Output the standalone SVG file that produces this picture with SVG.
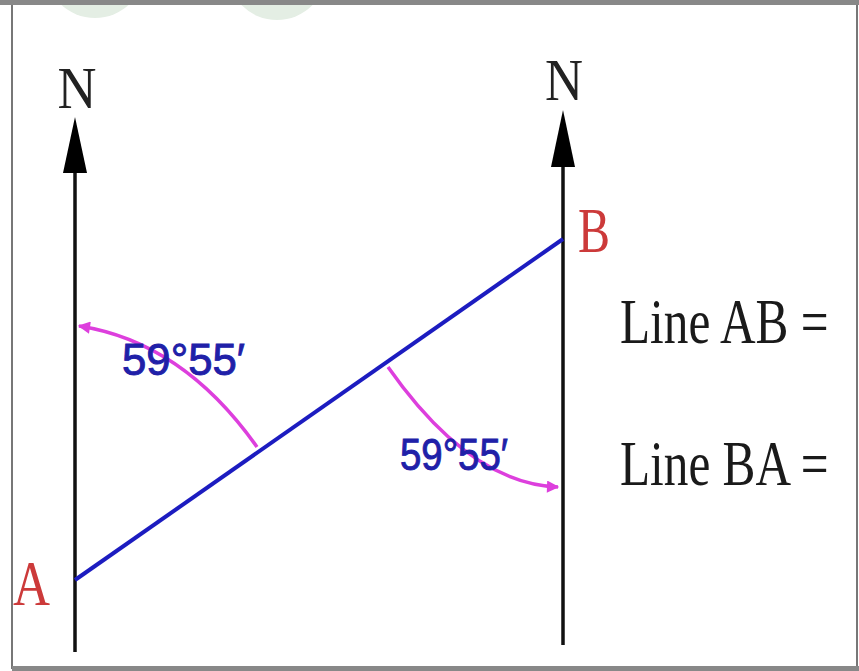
<svg xmlns="http://www.w3.org/2000/svg" width="859" height="671" viewBox="0 0 859 671">
<style>
.axis{stroke:#111;stroke-width:3.5;fill:none}
.head{fill:#000}
.ser{font-family:"Liberation Serif","Times New Roman",serif}
.north{font-size:60px;fill:#222}
.pt{font-size:64px;fill:#cc3a3a}
.eq{font-size:64px;fill:#1a1a1a}
.ang{font-family:"Liberation Sans",Arial,sans-serif;font-size:44px;fill:#2020a8;stroke:#2020a8;stroke-width:0.9}
.arc{stroke:#dd3fdd;stroke-width:3.5;fill:none}
</style>
<defs>
<marker id="mh" viewBox="0 0 10 10" refX="9" refY="5" markerWidth="5" markerHeight="3.5" orient="auto" markerUnits="strokeWidth">
<path d="M0,0 L10,5 L0,10 z" fill="#dd3fdd"/>
</marker>
</defs>
<rect x="0" y="0" width="859" height="671" fill="#fff"/>
<g id="watermark" fill="#e4eee4">
<circle cx="95" cy="-32" r="50"/>
<circle cx="277" cy="-30" r="50"/>
</g>
<g id="frame">
<rect x="12" y="3" width="845" height="665" fill="none" stroke="#777" stroke-width="2"/>
<rect x="0" y="0" width="859" height="5" fill="#888"/>
<rect x="12" y="666" width="847" height="5" fill="#888"/>
</g>
<g id="connectors">
<line class="axis" x1="75" y1="170" x2="75" y2="652"/>
<line class="axis" x1="563" y1="164" x2="563" y2="645"/>
<line x1="75" y1="580" x2="563" y2="239" stroke="#1c1cc0" stroke-width="4"/>
<path class="arc" d="M257,447 Q183,342 79,326" marker-end="url(#mh)"/>
<path class="arc" d="M388,367 Q470,484 558,487" marker-end="url(#mh)"/>
</g>
<g id="northA">
<path class="head" d="M75,117 L63,173 L87,173 z"/>
<text class="ser north" x="77" y="108" text-anchor="middle" textLength="39" lengthAdjust="spacingAndGlyphs">N</text>
</g>
<g id="northB">
<path class="head" d="M563,110 L551,167 L575,167 z"/>
<text class="ser north" x="564" y="100" text-anchor="middle" textLength="38" lengthAdjust="spacingAndGlyphs">N</text>
</g>
<g id="A">
<text class="ser pt" x="13" y="605" textLength="37" lengthAdjust="spacingAndGlyphs">A</text>
</g>
<g id="B">
<text class="ser pt" x="578" y="252" textLength="32" lengthAdjust="spacingAndGlyphs">B</text>
</g>
<g id="angle1">
<text class="ang" x="122" y="375" textLength="123" lengthAdjust="spacingAndGlyphs">59°55′</text>
</g>
<g id="angle2">
<text class="ang" x="400" y="470" textLength="108" lengthAdjust="spacingAndGlyphs">59°55′</text>
</g>
<g id="lineAB" transform="translate(620,343) scale(0.77,1)">
<text class="ser eq" x="0" y="0">Line AB =</text>
</g>
<g id="lineBA" transform="translate(620,485) scale(0.77,1)">
<text class="ser eq" x="0" y="0">Line BA =</text>
</g>
</svg>
